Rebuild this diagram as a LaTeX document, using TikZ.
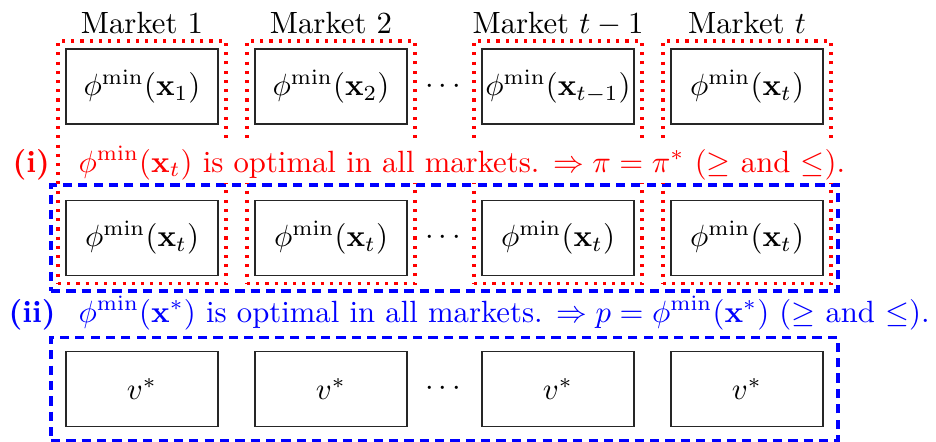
\documentclass[tikz,border=0pt]{standalone}
\usetikzlibrary{fit}
\newlength\pxlen
\setlength\pxlen{0.3255pt}
\begin{document}
\begin{tikzpicture}[x=\pxlen,y=-\pxlen,
  cell/.style={draw=black!85,line width=0.45pt,minimum width=152\pxlen,minimum height=75\pxlen,inner sep=0pt,outer sep=0pt},
  redbox/.style={draw=red,line width=1pt,dash pattern=on 1pt off 2pt,inner sep=8\pxlen},
  bluebox/.style={draw=blue,line width=1pt,dash pattern=on 3pt off 2pt,inner xsep=15\pxlen},
  mlabel/.style={inner sep=0pt,anchor=base},
  stmt/.style={inner xsep=0pt,inner ysep=1.2pt,anchor=base west,fill=white},
  dotsnode/.style={inner sep=0pt}]
\useasboundingbox (0,0) rectangle (936,441);
% market labels
\node[mlabel] (m1) at (142,33) {Market 1};
\node[mlabel] (m2) at (331,33) {Market 2};
\node[mlabel] (m3) at (558,33) {Market $t-1$};
\node[mlabel] (m4) at (747,33) {Market $t$};
% row 1
\node[cell] (a1) at (142,86.5) {$\phi^{\min}(\mathbf{x}_1)$};
\node[cell] (a2) at (331,86.5) {$\phi^{\min}(\mathbf{x}_2)$};
\node[cell] (a3) at (558,86.5) {$\phi^{\min}(\mathbf{x}_{t-1})$};
\node[cell] (a4) at (747,86.5) {$\phi^{\min}(\mathbf{x}_t)$};
\node[dotsnode] (d1) at (443,86.5) {$\cdots$};
% row 2
\node[cell] (b1) at (142,238) {$\phi^{\min}(\mathbf{x}_t)$};
\node[cell] (b2) at (331,238) {$\phi^{\min}(\mathbf{x}_t)$};
\node[cell] (b3) at (558,238) {$\phi^{\min}(\mathbf{x}_t)$};
\node[cell] (b4) at (747,238) {$\phi^{\min}(\mathbf{x}_t)$};
\node[dotsnode] (d2) at (443,238) {$\cdots$};
% row 3
\node[cell] (c1) at (142,389) {$v^*$};
\node[cell] (c2) at (331,389) {$v^*$};
\node[cell] (c3) at (558,389) {$v^*$};
\node[cell] (c4) at (747,389) {$v^*$};
\node[dotsnode] (d3) at (443,389) {$\cdots$};
% blue dashed groups
\node[bluebox,inner ysep=15.5\pxlen,fit=(b1)(b4)] (g1) {};
\node[bluebox,inner ysep=14\pxlen,fit=(c1)(c4)] (g2) {};
% red dotted columns
\node[redbox,fit=(a1)(b1)] (r1) {};
\node[redbox,fit=(a2)(b2)] (r2) {};
\node[redbox,fit=(a3)(b3)] (r3) {};
\node[redbox,fit=(a4)(b4)] (r4) {};
% statements
\node[stmt,text=red] (i1) at (12,172) {\textbf{(i)}};
\node[stmt,text=red] (t1) at (78,172) {$\phi^{\min}(\mathbf{x}_t)$ is optimal in all markets. $\Rightarrow \pi = \pi^*$ ($\geq$ and $\leq$).};
\node[stmt,text=blue] (i2) at (8,322) {\textbf{(ii)}};
\node[stmt,text=blue] (t2) at (78,322) {$\phi^{\min}(\mathbf{x}^*)$ is optimal in all markets. $\Rightarrow p = \phi^{\min}(\mathbf{x}^*)$ ($\geq$ and $\leq$).};
\end{tikzpicture}
\end{document}
